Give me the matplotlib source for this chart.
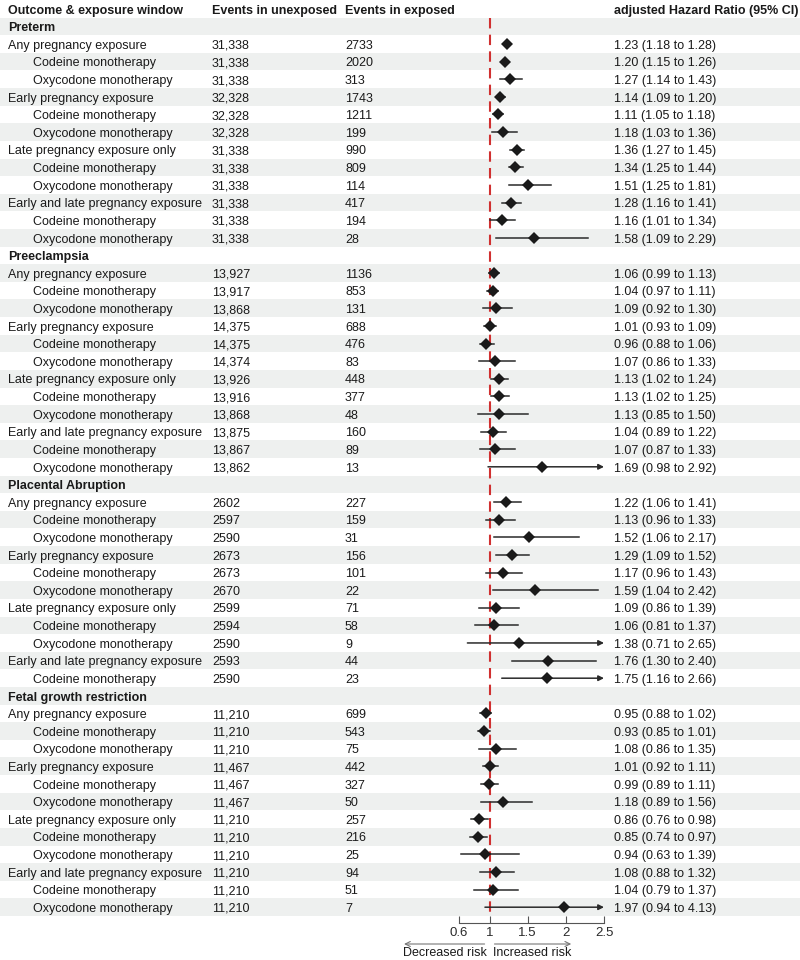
import numpy as np
import matplotlib as mpl
from matplotlib import pyplot as plt
from matplotlib.transforms import blended_transform_factory

mpl.rc('font', family=['Liberation Sans', 'DejaVu Sans'], size=9)

# Table content, one entry per data row
outcomes = ["Preterm", "Preeclampsia", "Placental Abruption", "Fetal growth restriction"]
windows = ["Any pregnancy exposure", "Early pregnancy exposure",
           "Late pregnancy exposure only", "Early and late pregnancy exposure"]
drugs = ["Codeine monotherapy", "Oxycodone monotherapy"]

unexposed = [
    "31,338", "31,338", "31,338", "32,328", "32,328", "32,328",
    "31,338", "31,338", "31,338", "31,338", "31,338", "31,338",
    "13,927", "13,917", "13,868", "14,375", "14,375", "14,374",
    "13,926", "13,916", "13,868", "13,875", "13,867", "13,862",
    "2602", "2597", "2590", "2673", "2673", "2670",
    "2599", "2594", "2590", "2593", "2590",
    "11,210", "11,210", "11,210", "11,467", "11,467", "11,467",
    "11,210", "11,210", "11,210", "11,210", "11,210", "11,210",
]
exposed = [
    "2733", "2020", "313", "1743", "1211", "199", "990", "809", "114", "417", "194", "28",
    "1136", "853", "131", "688", "476", "83", "448", "377", "48", "160", "89", "13",
    "227", "159", "31", "156", "101", "22", "71", "58", "9", "44", "23",
    "699", "543", "75", "442", "327", "50", "257", "216", "25", "94", "51", "7",
]
hr = [1.23, 1.20, 1.27, 1.14, 1.11, 1.18, 1.36, 1.34, 1.51, 1.28, 1.16, 1.58,
      1.06, 1.04, 1.09, 1.01, 0.96, 1.07, 1.13, 1.13, 1.13, 1.04, 1.07, 1.69,
      1.22, 1.13, 1.52, 1.29, 1.17, 1.59, 1.09, 1.06, 1.38, 1.76, 1.75,
      0.95, 0.93, 1.08, 1.01, 0.99, 1.18, 0.86, 0.85, 0.94, 1.08, 1.04, 1.97]
lo = [1.18, 1.15, 1.14, 1.09, 1.05, 1.03, 1.27, 1.25, 1.25, 1.16, 1.01, 1.09,
      0.99, 0.97, 0.92, 0.93, 0.88, 0.86, 1.02, 1.02, 0.85, 0.89, 0.87, 0.98,
      1.06, 0.96, 1.06, 1.09, 0.96, 1.04, 0.86, 0.81, 0.71, 1.30, 1.16,
      0.88, 0.85, 0.86, 0.92, 0.89, 0.89, 0.76, 0.74, 0.63, 0.88, 0.79, 0.94]
hi = [1.28, 1.26, 1.43, 1.20, 1.18, 1.36, 1.45, 1.44, 1.81, 1.41, 1.34, 2.29,
      1.13, 1.11, 1.30, 1.09, 1.06, 1.33, 1.24, 1.25, 1.50, 1.22, 1.33, 2.92,
      1.41, 1.33, 2.17, 1.52, 1.43, 2.42, 1.39, 1.37, 2.65, 2.40, 2.66,
      1.02, 1.01, 1.35, 1.11, 1.11, 1.56, 0.98, 0.97, 1.39, 1.32, 1.37, 4.13]
# Placental abruption has no oxycodone row in the early-and-late window
rows_per_outcome = [12, 12, 11, 12]

xticks = [0.6, 1, 1.5, 2, 2.5]
xmin, xmax = 0.6, 2.5

# Build the row layout: header row, then outcome headings and sub rows
labels, bold, indent, data_idx = [], [], [], []
k = 0
for outcome, n in zip(outcomes, rows_per_outcome):
    labels.append(outcome); bold.append(True); indent.append(False); data_idx.append(None)
    for j in range(n):
        if j % 3 == 0:
            labels.append(windows[j // 3]); indent.append(False)
        else:
            labels.append(drugs[j % 3 - 1]); indent.append(True)
        bold.append(False)
        data_idx.append(k)
        k += 1

n_rows = len(labels) + 1
text_col = '#1a1a1a'
# text sits on a baseline slightly below row centre so all columns line up
base = 0.27

W, H = 800, 960
fig = plt.figure(figsize=(8, 9.6), dpi=100)
table_bottom = 916
ax = fig.add_axes([0, 1 - table_bottom / H, 1, table_bottom / H])
ax.set_ylim(n_rows - 0.5, -0.5)
ax.set_xlim(0, 1)
ax.axis('off')

axf = fig.add_axes([459 / W, 1 - table_bottom / H, (604 - 459) / W, table_bottom / H],
                   sharey=ax)
axf.set_facecolor('none')
axf.set_xlim(xmin, xmax)

for r in range(1, n_rows):
    if r % 2 == 1:
        ax.axhspan(r - 0.5, r + 0.5, color='#eef0ef', lw=0, zorder=0)

tr = blended_transform_factory(fig.transFigure, ax.transData)
for x, s in [(8, "Outcome & exposure window"), (212, "Events in unexposed"),
             (345, "Events in exposed"), (614, "adjusted Hazard Ratio (95% CI)")]:
    ax.text(x / W, base, s, transform=tr, fontweight='bold', va='baseline',
            ha='left', color=text_col)

for i, lab in enumerate(labels):
    y = i + 1 + base
    x = 33 if indent[i] else 8
    ax.text(x / W, y, lab, transform=tr, va='baseline', ha='left', color=text_col,
            fontweight='bold' if bold[i] else 'normal')
    d = data_idx[i]
    if d is None:
        continue
    ax.text(212 / W, y, unexposed[d], transform=tr, va='baseline', color=text_col)
    ax.text(345 / W, y, exposed[d], transform=tr, va='baseline', color=text_col)
    ax.text(614 / W, y, f"{hr[d]:.2f} ({lo[d]:.2f} to {hi[d]:.2f})", transform=tr,
            va='baseline', color=text_col)

# Reference line at 1
axf.vlines(1, 0.5, n_rows - 0.5, color='#d03030', linestyle=(0, (5, 3)), lw=1.5, zorder=2)

# Confidence intervals and point estimates
for i, d in enumerate(data_idx):
    if d is None:
        continue
    y = i + 1
    if hi[d] > xmax:
        axf.annotate("", xy=(xmax, y), xytext=(lo[d], y),
                     arrowprops=dict(arrowstyle='-|>', color='#2a2a2a', lw=1.1,
                                     mutation_scale=8, shrinkA=0, shrinkB=0),
                     annotation_clip=False, zorder=3)
    else:
        axf.plot([lo[d], hi[d]], [y, y], color='#2a2a2a', lw=1.1, zorder=3)
    axf.plot(hr[d], y, marker='D', color='#1a1a1a', ms=6.5, mew=0, zorder=4)

for s in ['top', 'left', 'right']:
    axf.spines[s].set_visible(False)
axf.spines['bottom'].set_position(('outward', 5))
axf.spines['bottom'].set_color('#555555')
axf.spines['bottom'].set_linewidth(0.8)
axf.set_xticks(xticks)
axf.set_xticklabels([f"{t:g}" for t in xticks])
axf.tick_params(axis='x', direction='in', length=5, width=0.8, color='#555555',
                labelcolor='#2a2a2a', labelsize=9.5, pad=3)
axf.tick_params(axis='y', left=False, labelleft=False)

# Direction arrows below the axis
tb = blended_transform_factory(axf.transData, fig.transFigure)
ya = 1 - 944 / H
axf.annotate("", xy=(-0.12, ya), xytext=(0.935, ya), xycoords=tb, textcoords=tb,
             arrowprops=dict(arrowstyle='->', color='#777777', lw=0.8, shrinkA=0, shrinkB=0))
axf.annotate("", xy=(2.07, ya), xytext=(1.065, ya), xycoords=tb, textcoords=tb,
             arrowprops=dict(arrowstyle='->', color='#777777', lw=0.8, shrinkA=0, shrinkB=0))
axf.text(0.96, 1 - 953 / H, "Decreased risk", transform=tb, ha='right', va='center',
         color=text_col)
axf.text(1.04, 1 - 953 / H, "Increased risk", transform=tb, ha='left', va='center',
         color=text_col)

fig.savefig("out.png", dpi=100)
